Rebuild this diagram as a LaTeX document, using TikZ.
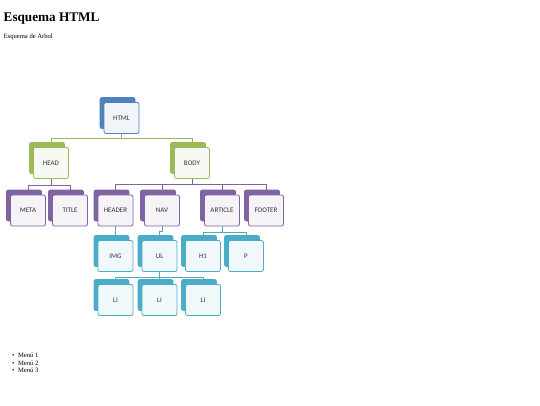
\documentclass[tikz,border=0pt]{standalone}
\usepackage{fontspec}
\setmainfont{Liberation Serif}
\newfontfamily\cardfont{Carlito}
\usetikzlibrary{shadows,backgrounds}

\definecolor{htmlblue}{HTML}{4F81BD}
\definecolor{headgreen}{HTML}{9BBB59}
\definecolor{bodypurple}{HTML}{8064A2}
\definecolor{leafteal}{HTML}{4BACC6}

\tikzset{
  card/.style={rectangle, rounded corners=2pt, minimum width=35pt, minimum height=31pt,
    line width=0.8pt, draw=#1, fill=#1!8, text=black!80, font=\cardfont\fontsize{7}{8}\selectfont,
    copy shadow={shadow xshift=-4pt, shadow yshift=5pt, fill=#1, draw=#1}},
  pagetext/.style={anchor=base west, inner sep=0pt, font=\fontsize{6.6}{7.5}\selectfont},
}

\begin{document}
\begin{tikzpicture}[x=1pt, y=-1pt]
  \useasboundingbox (0,0) rectangle (540,405);

  % Encabezado
  \node (titulo) at (3.5,21) [anchor=base west, inner sep=0pt, font=\bfseries\fontsize{13.2}{15}\selectfont] {Esquema HTML};
  \node (subtitulo) at (3.5,38.5) [pagetext] {Esquema de Arbol};

  % Raiz
  \node (html) at (121.5,118) [card=htmlblue] {HTML};

  % Segundo nivel
  \node (head) at (51,163) [card=headgreen] {HEAD};
  \node (body) at (192,163) [card=headgreen] {BODY};

  % Tercer nivel
  \node (meta) at (28,210.5) [card=bodypurple] {META};
  \node (title) at (70,210.5) [card=bodypurple] {TITLE};
  \node (header) at (115.5,210.5) [card=bodypurple] {HEADER};
  \node (nav) at (162,210.5) [card=bodypurple] {NAV};
  \node (article) at (222,210.5) [card=bodypurple] {ARTICLE};
  \node (footer) at (266,210.5) [card=bodypurple] {FOOTER};

  % Cuarto nivel
  \node (img) at (115.5,256) [card=leafteal] {IMG};
  \node (ul) at (159.5,256) [card=leafteal] {UL};
  \node (h1) at (203,256) [card=leafteal] {H1};
  \node (p) at (246,256) [card=leafteal] {P};

  % Quinto nivel
  \node (li1) at (115.5,300) [card=leafteal] {LI};
  \node (li2) at (159.5,300) [card=leafteal] {LI};
  \node (li3) at (203,300) [card=leafteal] {LI};

  % Lista
  \node (menu1) at (12,357.5) [pagetext] {\textbullet\hspace{3.5pt}Menú 1};
  \node (menu2) at (12,365) [pagetext] {\textbullet\hspace{3.5pt}Menú 2};
  \node (menu3) at (12,372.5) [pagetext] {\textbullet\hspace{3.5pt}Menú 3};

  % Conexiones
  \begin{scope}[on background layer, line width=0.8pt]
    \fill[white] (0,0) rectangle (540,405);
    \draw[headgreen] (html.south) -- ++(0,4) -| (head.north);
    \draw[headgreen] (html.south) -- ++(0,4) -| (body.north);
    \draw[bodypurple] (head.south) -- ++(0,6) -| (meta.north);
    \draw[bodypurple] (head.south) -- ++(0,6) -| (title.north);
    \draw[bodypurple] (body.south) -- ++(0,5.5) -| (header.north);
    \draw[bodypurple] (body.south) -- ++(0,5.5) -| (nav.north);
    \draw[bodypurple] (body.south) -- ++(0,5.5) -| (article.north);
    \draw[bodypurple] (body.south) -- ++(0,5.5) -| (footer.north);
    \draw[leafteal] (header.south) -- (img.north);
    \draw[leafteal] (nav.south) -- ++(0,5) -| (ul.north);
    \draw[leafteal] (article.south) -- ++(0,5.5) -| (h1.north);
    \draw[leafteal] (article.south) -- ++(0,5.5) -| (p.north);
    \draw[leafteal] (ul.south) -- ++(0,5.5) -| (li1.north);
    \draw[leafteal] (ul.south) -- ++(0,5.5) -| (li2.north);
    \draw[leafteal] (ul.south) -- ++(0,5.5) -| (li3.north);
  \end{scope}
\end{tikzpicture}
\end{document}
